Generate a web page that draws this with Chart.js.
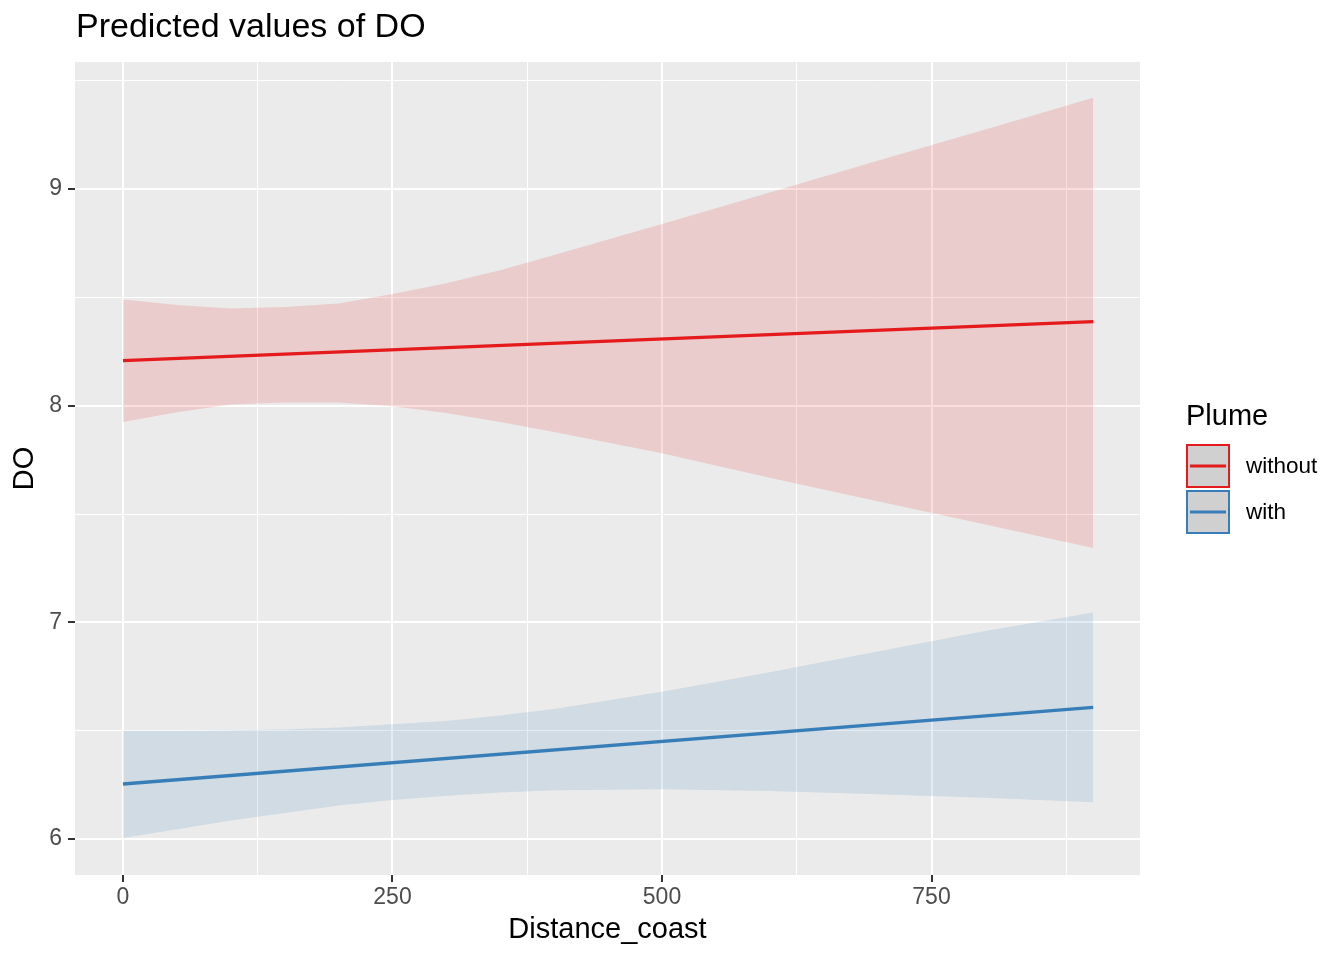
<!DOCTYPE html>
<html>
<head>
<meta charset="utf-8">
<script src="https://cdn.jsdelivr.net/npm/chart.js@4"></script>
<style>
  body { margin: 0; background: #ffffff; }
</style>
</head>
<body>
<canvas id="chart" width="1344" height="960"></canvas>
<script>
// values
const ribbonX = [0, 50, 100, 150, 200, 250, 300, 350, 400, 500, 600, 700, 800, 900];
const withoutUpper = [8.49, 8.465, 8.448, 8.455, 8.471, 8.515, 8.565, 8.625, 8.695, 8.838, 8.984, 9.13, 9.275, 9.421];
const withoutLower = [7.925, 7.97, 8.005, 8.015, 8.015, 7.997, 7.966, 7.925, 7.878, 7.78, 7.667, 7.559, 7.451, 7.343];
const withUpper = [6.50, 6.50, 6.502, 6.506, 6.515, 6.53, 6.545, 6.57, 6.60, 6.68, 6.77, 6.865, 6.96, 7.045];
const withLower = [6.005, 6.045, 6.085, 6.12, 6.155, 6.18, 6.20, 6.215, 6.225, 6.23, 6.222, 6.207, 6.19, 6.17];

const fitX = [0, 900];
const withoutFit = [8.208, 8.388];
const withFit = [6.254, 6.608];

const seriesNames = ['without', 'with'];
const seriesColors = ['#E41A1C', '#377EB8'];
const ribbonColors = ['rgba(228, 26, 28, 0.15)', 'rgba(55, 126, 184, 0.15)'];

const xGridLines = [0, 125, 250, 375, 500, 625, 750, 875];
const xTickLabels = [0, 250, 500, 750];
const yGridLines = [6, 6.5, 7, 7.5, 8, 8.5, 9, 9.5];
const yTickLabels = [6, 7, 8, 9];

const FONT = '"Liberation Sans", Arial, sans-serif';

function points(xs, ys) {
    return xs.map((x, i) => ({ x: x, y: ys[i] }));
}

function ribbon(xs, ys, color, fill) {
    return {
        data: points(xs, ys),
        borderColor: 'transparent',
        borderWidth: 0,
        backgroundColor: color,
        pointRadius: 0,
        fill: fill,
        order: 2,
    };
}

const panelBackground = {
    id: 'panelBackground',
    beforeDraw(chart) {
        const { ctx, chartArea } = chart;
        ctx.save();
        ctx.fillStyle = '#EBEBEB';
        ctx.fillRect(chartArea.left, chartArea.top, chartArea.right - chartArea.left, chartArea.bottom - chartArea.top);
        ctx.restore();
    },
};

const titleAndLegend = {
    id: 'titleAndLegend',
    afterDraw(chart) {
        const { ctx, chartArea } = chart;
        ctx.save();
        ctx.fillStyle = '#000000';
        ctx.textBaseline = 'middle';
        ctx.textAlign = 'left';
        ctx.font = '34px ' + FONT;
        ctx.fillText('Predicted values of DO', chartArea.left + 1, 28);

        const lx = chartArea.right + 46;
        ctx.font = '29px ' + FONT;
        ctx.fillText('Plume', lx, 417);

        seriesNames.forEach((name, i) => {
            const top = 444 + i * 46;
            ctx.fillStyle = '#D0D0D0';
            ctx.fillRect(lx + 1, top + 1, 42, 42);
            ctx.strokeStyle = seriesColors[i];
            ctx.lineWidth = 2;
            ctx.strokeRect(lx + 1, top + 1, 42, 42);
            ctx.beginPath();
            ctx.moveTo(lx + 4, top + 22);
            ctx.lineTo(lx + 40, top + 22);
            ctx.lineWidth = 3;
            ctx.stroke();
            ctx.fillStyle = '#000000';
            ctx.font = '22.5px ' + FONT;
            ctx.fillText(name, lx + 60, top + 23);
        });
        ctx.restore();
    },
};

new Chart(document.getElementById('chart').getContext('2d'), {
    type: 'line',
    data: {
        datasets: [
            ribbon(ribbonX, withoutUpper, ribbonColors[0], '+1'),
            ribbon(ribbonX, withoutLower, ribbonColors[0], false),
            ribbon(ribbonX, withUpper, ribbonColors[1], '+1'),
            ribbon(ribbonX, withLower, ribbonColors[1], false),
            {
                label: seriesNames[0],
                data: points(fitX, withoutFit),
                borderColor: seriesColors[0],
                borderWidth: 3.3,
                pointRadius: 0,
                fill: false,
                order: 1,
            },
            {
                label: seriesNames[1],
                data: points(fitX, withFit),
                borderColor: seriesColors[1],
                borderWidth: 3.3,
                pointRadius: 0,
                fill: false,
                order: 1,
            },
        ],
    },
    options: {
        responsive: false,
        animation: false,
        devicePixelRatio: 1,
        layout: { padding: { top: 62, right: 204, left: 0, bottom: 0 } },
        plugins: {
            legend: { display: false },
            title: { display: false },
            tooltip: { enabled: false },
        },
        scales: {
            x: {
                type: 'linear',
                min: -44.5,
                max: 943.4,
                afterFit: (s) => { s.height = 85; },
                afterBuildTicks: (s) => { s.ticks = xGridLines.map(v => ({ value: v })); },
                border: { display: false },
                grid: {
                    color: '#FFFFFF',
                    lineWidth: (c) => xTickLabels.includes(c.tick.value) ? 2 : 1,
                    tickColor: (c) => xTickLabels.includes(c.tick.value) ? '#333333' : 'rgba(0,0,0,0)',
                    tickLength: 7,
                    tickWidth: 2,
                },
                ticks: {
                    autoSkip: false,
                    maxRotation: 0,
                    padding: 2,
                    color: '#4D4D4D',
                    font: { family: FONT, size: 23 },
                    callback: (v) => xTickLabels.includes(v) ? String(v) : '',
                },
                title: {
                    display: true,
                    text: 'Distance_coast',
                    color: '#000000',
                    font: { family: FONT, size: 29 },
                    padding: { top: 0, bottom: 13 },
                },
            },
            y: {
                type: 'linear',
                min: 5.834,
                max: 9.586,
                afterFit: (s) => { s.width = 75; },
                afterBuildTicks: (s) => { s.ticks = yGridLines.map(v => ({ value: v })); },
                border: { display: false },
                grid: {
                    color: '#FFFFFF',
                    lineWidth: (c) => yTickLabels.includes(c.tick.value) ? 2 : 1,
                    tickColor: (c) => yTickLabels.includes(c.tick.value) ? '#333333' : 'rgba(0,0,0,0)',
                    tickLength: 7,
                    tickWidth: 2,
                },
                ticks: {
                    autoSkip: false,
                    padding: 6,
                    color: '#4D4D4D',
                    font: { family: FONT, size: 23 },
                    callback: (v) => yTickLabels.includes(v) ? String(v) : '',
                },
                title: {
                    display: true,
                    text: 'DO',
                    color: '#000000',
                    font: { family: FONT, size: 29 },
                    padding: { top: 8, bottom: 0 },
                },
            },
        },
    },
    plugins: [panelBackground, titleAndLegend],
});
</script>
</body>
</html>
